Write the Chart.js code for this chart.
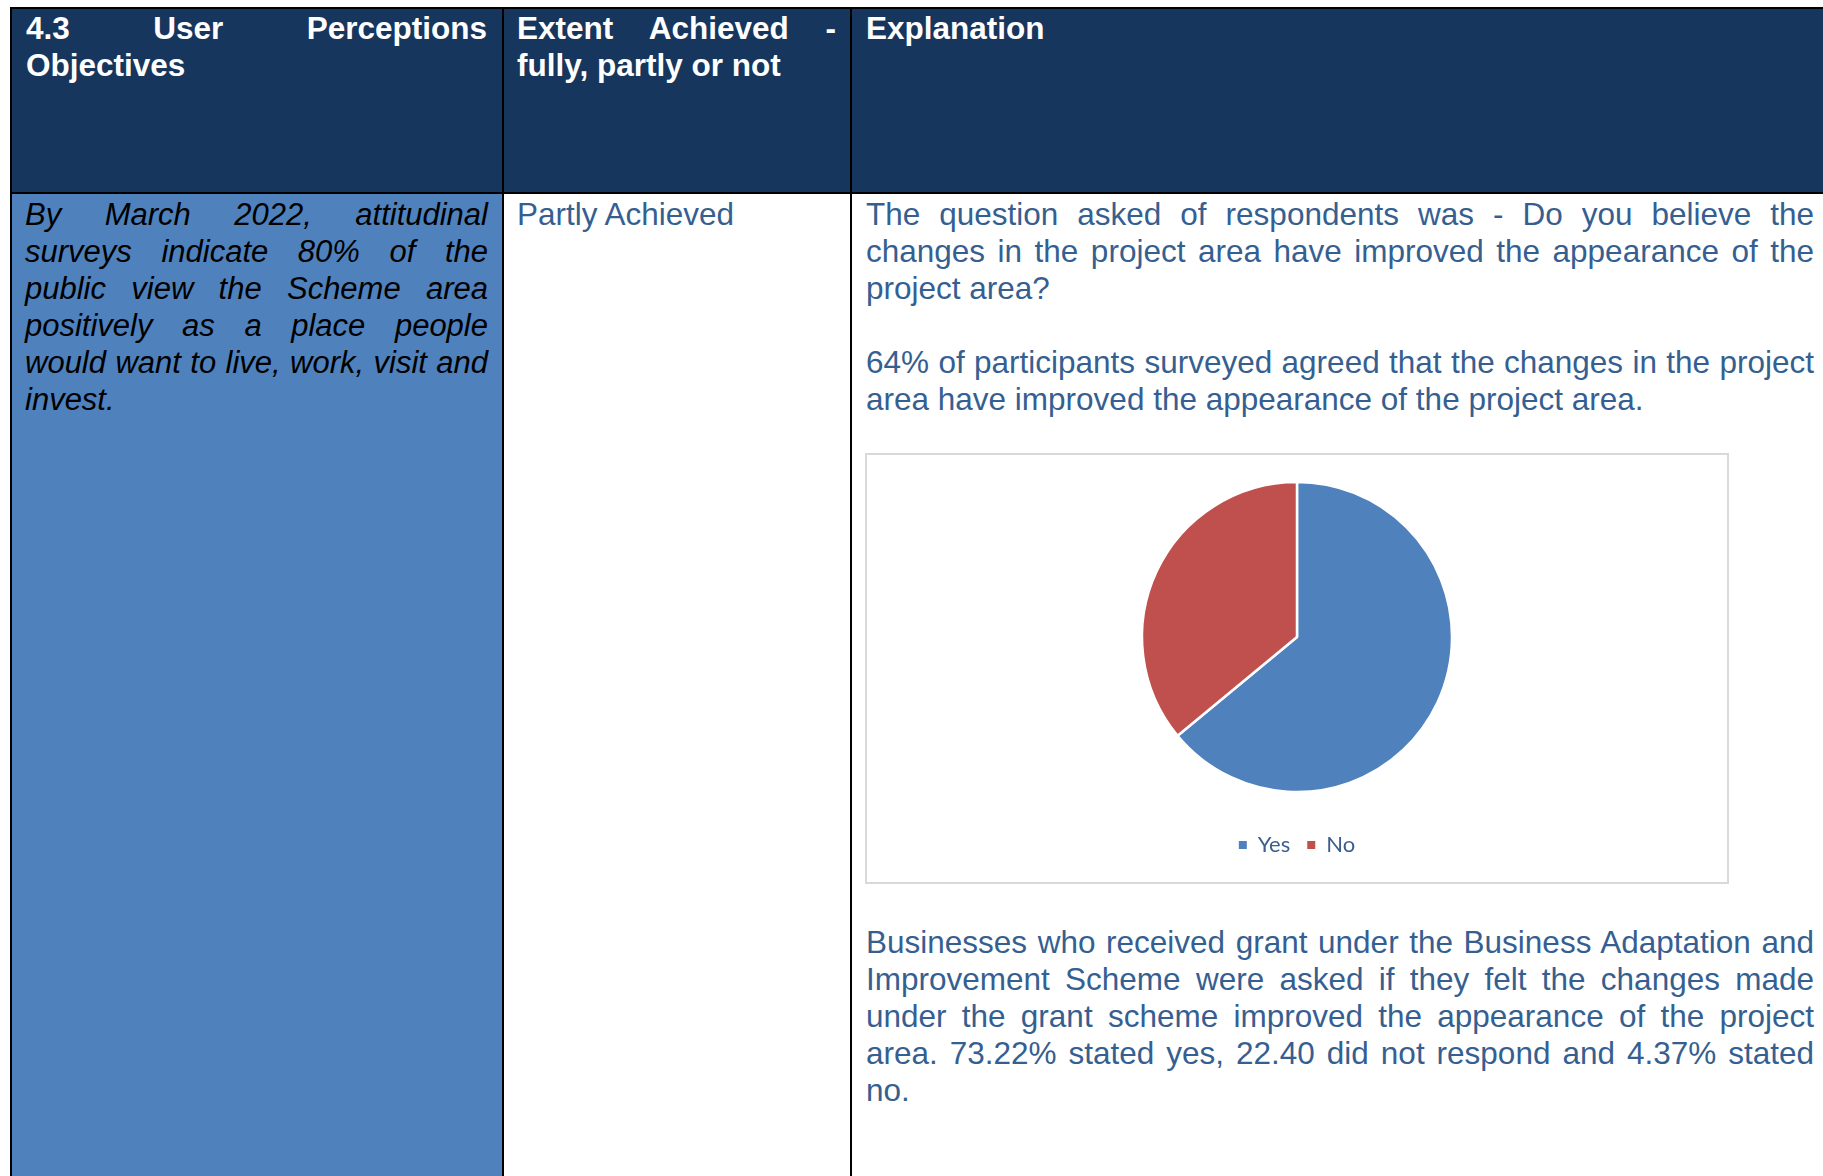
<!DOCTYPE html>
<html>
<head>
<meta charset="utf-8">
<script src="https://cdn.jsdelivr.net/npm/chart.js@4.4.1/dist/chart.umd.min.js"></script>
<style>
  html, body { margin: 0; padding: 0; background: #fff; }
  body { width: 1823px; height: 1176px; position: relative; overflow: hidden;
         font-family: "Liberation Sans", Arial, sans-serif; }
  .grid { position: absolute; left: 10px; top: 7px; width: 1830px; height: 1200px; background: #000; }
  .cell { position: absolute; box-sizing: border-box; }
  .head { background: #17365D; }
  .txt { position: absolute; line-height: 37px; text-align: justify; margin: 0; }
  .htxt { color: #fff; font-weight: bold; font-size: 31.5px; }
  .btxt { color: #365F91; font-size: 31.5px; }
  .itxt { color: #000; font-style: italic; font-size: 31px; }
  .chartbox { position: absolute; left: 865px; top: 453px; width: 864px; height: 431px;
              box-sizing: border-box; border: 2px solid #d9d9d9; background: #fff; }
  .chartbox canvas { display: block; }
</style>
</head>
<body>
<div class="grid"></div>
<div class="cell head" style="left:12px; top:9px; width:490px; height:183px;"></div>
<div class="cell head" style="left:504px; top:9px; width:346px; height:183px;"></div>
<div class="cell head" style="left:852px; top:9px; width:980px; height:183px;"></div>
<div class="cell" style="left:12px; top:194px; width:490px; height:1000px; background:#4F81BD;"></div>
<div class="cell" style="left:504px; top:194px; width:346px; height:1000px; background:#fff;"></div>
<div class="cell" style="left:852px; top:194px; width:980px; height:1000px; background:#fff;"></div>

<p class="txt htxt" style="left:26px; top:10px; width:461px;">4.3 User Perceptions Objectives</p>
<p class="txt htxt" style="left:517px; top:10px; width:319px;">Extent Achieved - fully, partly or not</p>
<p class="txt htxt" style="left:866px; top:10px; width:948px;">Explanation</p>

<p class="txt itxt" style="left:25px; top:196px; width:463px;">By March 2022, attitudinal surveys indicate 80% of the public view the Scheme area positively as a place people would want to live, work, visit and invest.</p>
<p class="txt btxt" style="left:517px; top:196px; width:319px;">Partly Achieved</p>

<p class="txt btxt" style="left:866px; top:196px; width:948px;">The question asked of respondents was - Do you believe the changes in the project area have improved the appearance of the project area?</p>
<p class="txt btxt" style="left:866px; top:344px; width:948px;">64% of participants surveyed agreed that the changes in the project area have improved the appearance of the project area.</p>

<div class="chartbox"><canvas id="pie" width="860" height="427"></canvas></div>

<p class="txt btxt" style="left:866px; top:924px; width:948px;">Businesses who received grant under the Business Adaptation and Improvement Scheme were asked if they felt the changes made under the grant scheme improved the appearance of the project area. 73.22% stated yes, 22.40 did not respond and 4.37% stated no.</p>

<script>
// survey answers, percent
const answers = ['Yes', 'No'];
const shares = [64, 36];
const sliceColors = ['#4F81BD', '#C0504D'];

const ctx = document.getElementById('pie');
new Chart(ctx, {
    type: 'pie',
    data: {
        labels: answers,
        datasets: [{
            data: shares,
            backgroundColor: sliceColors,
            borderColor: '#ffffff',
            borderWidth: 2.5
        }]
    },
    options: {
        responsive: false,
        devicePixelRatio: 1,
        animation: false,
        radius: 155,
        layout: {
            padding: { top: 2, bottom: 16, left: 0, right: 0 }
        },
        plugins: {
            legend: {
                position: 'bottom',
                labels: {
                    boxWidth: 8,
                    boxHeight: 8,
                    padding: 17,
                    color: '#3b5e8f',
                    font: { family: 'Lato', size: 22 },
                    generateLabels: (chart) => {
                        // legend squares without the white slice border
                        let items = Chart.controllers.pie.overrides.plugins.legend.labels.generateLabels(chart);
                        items.forEach((item) => {
                            item.lineWidth = 0;
                            item.strokeStyle = item.fillStyle;
                        });
                        return items;
                    }
                }
            },
            tooltip: { enabled: false }
        }
    }
});
</script>
</body>
</html>
